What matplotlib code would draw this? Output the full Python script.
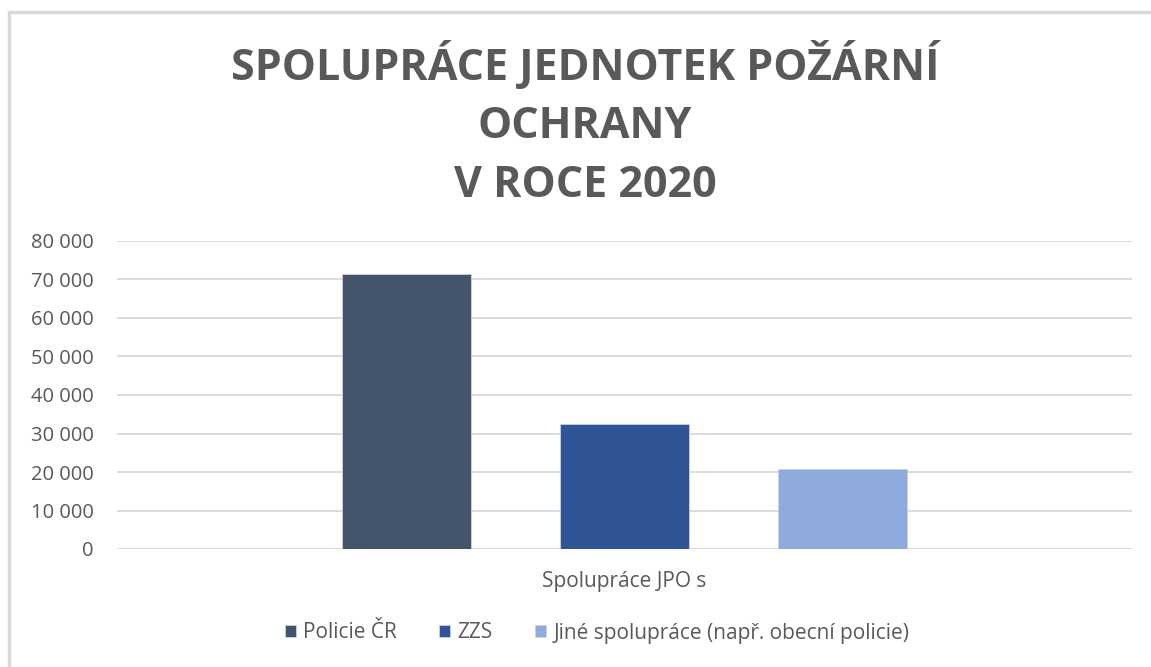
import matplotlib.pyplot as plt
from matplotlib.patches import Rectangle
from matplotlib.ticker import FuncFormatter

# data
kategorie = ['Policie ČR', 'ZZS', 'Jiné spolupráce (např. obecní policie)']
hodnoty = [71500, 32400, 20900]
barvy = ['#44546a', '#2f5597', '#8faadc']
skupina = 'Spolupráce JPO s'
titulek = 'SPOLUPRÁCE JEDNOTEK POŽÁRNÍ\nOCHRANY\nV ROCE 2020'

plt.rcParams['font.family'] = ['Open Sans', 'DejaVu Sans']
seda = '#595959'

W, H = 1151, 667
fig = plt.figure(figsize=(W / 100, H / 100), dpi=100)

# light frame around the chart (cut off at right and bottom)
fig.patches.append(Rectangle((9 / W, -0.1), 2, (H - 12) / H + 0.1, transform=fig.transFigure,
                             facecolor='none', edgecolor='#d9d9d9', linewidth=2.5))

ax = fig.add_axes([117 / W, 118 / H, (1132 - 117) / W, 308 / H])
for i, (v, c, k) in enumerate(zip(hodnoty, barvy, kategorie)):
    ax.bar(i, v, width=0.59, color=c, edgecolor='#c9d3e3', linewidth=0.6, label=k, zorder=3)

ax.set_xlim(-1.33, 3.33)
ax.set_ylim(0, 80000)
ax.set_yticks(range(0, 80001, 10000))
ax.yaxis.set_major_formatter(FuncFormatter(lambda v, p: f'{int(v):,}'.replace(',', ' ')))
ax.grid(axis='y', color='#d9d9d9', linewidth=1.3, zorder=0)
ax.set_xticks([])
for s in ax.spines.values():
    s.set_visible(False)
ax.tick_params(axis='y', length=0, pad=17, labelsize=14.5, labelcolor=seda)

fig.text(624 / W, 1 - 582 / H, skupina, ha='center', va='center', fontsize=15, color=seda)

fig.text(585 / W, 1 - 124 / H, titulek, ha='center', va='center', fontsize=31,
         fontweight='bold', color=seda, linespacing=1.47)

leg = fig.legend(loc='center', bbox_to_anchor=(597 / W, 1 - 633 / H), ncol=3, frameon=False,
                 fontsize=15, handlelength=0.55, handleheight=0.55, handletextpad=0.35,
                 columnspacing=2.0)
for t in leg.get_texts():
    t.set_color(seda)

fig.savefig('out.png', dpi=100)
